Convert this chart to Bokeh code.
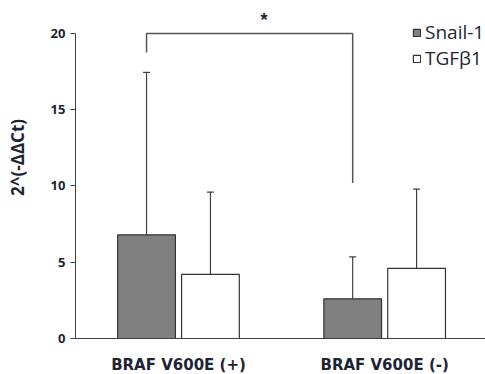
import numpy as np
from bokeh.plotting import figure
from bokeh.core.properties import value
from bokeh.models import (ColumnDataSource, Whisker, TeeHead, FixedTicker, Legend,
                          LegendItem, Range1d, LinearAxis)
from bokeh.embed import file_html
from bokeh.resources import INLINE

# ---- data ----
groups = ["BRAF V600E (+)", "BRAF V600E (-)"]
series = ["Snail-1", "TGF\u03b21"]
snail = [6.8, 2.6]
snail_err = [10.65, 2.75]
tgf = [4.2, 4.6]
tgf_err = [5.4, 5.2]
y_ticks = [0, 5, 10, 15, 20]
y_label = "2^(-\u0394\u0394Ct)"
sig_text = "*"
sig_top = 20.0
sig_left_bottom = 18.75
sig_right_bottom = 10.2
sig_star_x = 0.415

TXT = "#1e2433"
FONT = "Open Sans"
offset = 0.155
bw = 0.28
x_lo, x_hi = -0.8634, 1.4892
y_lo, y_hi = -2.36, 22.16
y_axis_x = -0.5

gx = np.arange(len(groups))

p = figure(width=485, height=374, output_backend="svg", toolbar_location=None,
           x_range=Range1d(x_lo, x_hi), y_range=Range1d(y_lo, y_hi),
           x_axis_location=None, y_axis_location=None,
           min_border=0)
p.outline_line_color = None
p.xgrid.visible = False
p.ygrid.visible = False
p.background_fill_color = "white"

s_src = ColumnDataSource(dict(x=gx - offset, top=snail, upper=np.array(snail) + np.array(snail_err)))
t_src = ColumnDataSource(dict(x=gx + offset, top=tgf, upper=np.array(tgf) + np.array(tgf_err)))

r1 = p.vbar(x="x", top="top", width=bw, source=s_src, fill_color="#808080",
            line_color="#333333", line_width=1.2)
r2 = p.vbar(x="x", top="top", width=bw, source=t_src, fill_color="white",
            line_color="#333333", line_width=1.2)

for src in (s_src, t_src):
    w = Whisker(base="x", lower="top", upper="upper", source=src,
                line_color="#404040", line_width=1.2,
                upper_head=TeeHead(size=7, line_color="#404040", line_width=1.2),
                lower_head=None)
    p.add_layout(w)

# significance bracket
bx = [gx[0] - offset, gx[0] - offset, gx[1] - offset, gx[1] - offset]
by = [sig_left_bottom, sig_top, sig_top, sig_right_bottom]
p.line(bx, by, line_color="#555555", line_width=1.5)
p.text(x=[sig_star_x], y=[sig_top + 0.85], text=[sig_text],
       text_align="center", text_baseline="middle", text_font_size="18px",
       text_font_style="bold", text_color=TXT)

# axes (drawn inside the frame at fixed locations)
ya = LinearAxis(fixed_location=y_axis_x, ticker=FixedTicker(ticks=y_ticks))
ya.bounds = (0, 20)
ya.minor_tick_line_color = None
ya.major_tick_out = 5
ya.major_tick_in = 0
ya.axis_line_color = "#404040"
ya.major_tick_line_color = "#404040"
ya.major_label_standoff = 5
ya.major_label_text_font = FONT
ya.major_label_text_font_size = "13px"
ya.major_label_text_font_style = "bold"
ya.major_label_text_color = TXT
p.add_layout(ya, "left")

xa = LinearAxis(fixed_location=0, ticker=FixedTicker(ticks=list(gx)))
xa.bounds = (y_axis_x, x_hi)
xa.major_label_overrides = {int(i): g for i, g in zip(gx, groups)}
xa.major_tick_line_color = None
xa.minor_tick_line_color = None
xa.axis_line_color = "#404040"
xa.major_label_standoff = 11
xa.major_label_text_font = "DejaVu Sans"
xa.major_label_text_font_size = "15px"
xa.major_label_text_font_style = "bold"
xa.major_label_text_color = TXT
p.add_layout(xa, "below")

# y-axis title
p.text(x=[-0.779], y=[11.87], text=[y_label], angle=np.pi / 2,
       text_align="center", text_baseline="middle", text_font=value(FONT),
       text_font_size="17px", text_font_style="bold", text_color=TXT)

legend = Legend(items=[LegendItem(label=series[0], renderers=[r1]),
                       LegendItem(label=series[1], renderers=[r2])],
                location=(412, 303), orientation="vertical",
                glyph_width=9, glyph_height=9, label_standoff=4, spacing=-2,
                padding=0, margin=0, border_line_color=None,
                background_fill_alpha=0, label_text_font=FONT,
                label_text_font_size="19px", label_text_color=TXT,
                label_height=20)
p.add_layout(legend, "center")

open("out.html", "w").write(file_html(p, INLINE))
